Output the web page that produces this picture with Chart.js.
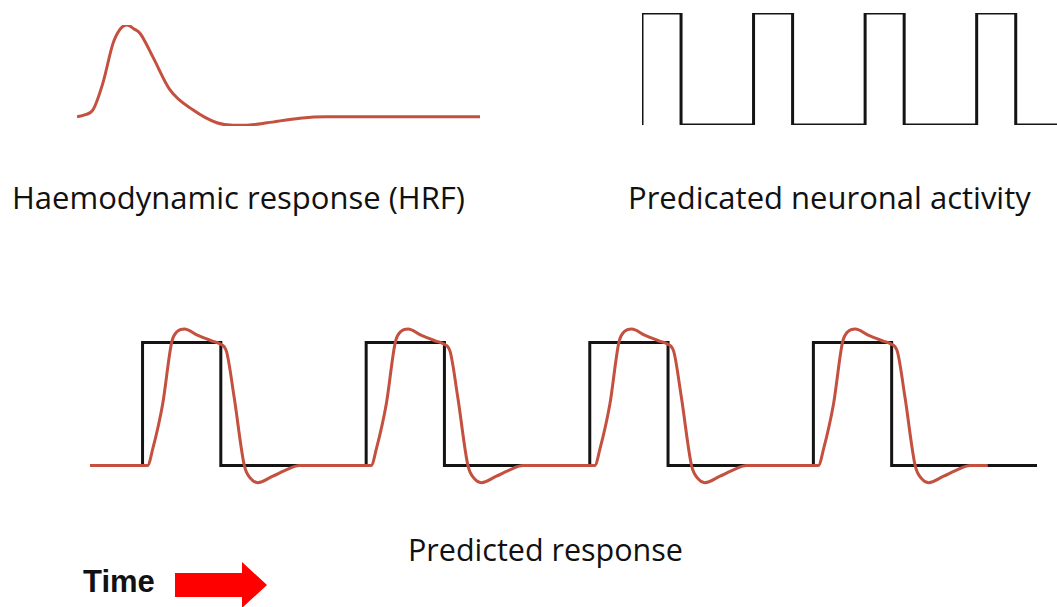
<!DOCTYPE html>
<html>
<head>
<meta charset="UTF-8" />
<title>Predicted BOLD response</title>
<script src="https://cdn.jsdelivr.net/npm/chart.js"></script>
<style>
  body { margin: 0; background: #fff; }
  #page { position: relative; width: 1057px; height: 607px; overflow: hidden; }
  .box { position: absolute; }
  .label { position: absolute; font-family: "Open Sans", sans-serif; font-size: 31px; line-height: 31px; color: #111; white-space: nowrap; }
  #time { font-family: "Liberation Sans", Arial, sans-serif; font-weight: bold; font-size: 31px; line-height: 31px; }
  #arrow { position: absolute; left: 175px; top: 562px; width: 92px; height: 46px; background: #ff0000;
           clip-path: polygon(0 11px, 67px 11px, 67px 0, 92px 23px, 67px 46px, 67px 35px, 0 35px); }
</style>
</head>
<body>
<div id="page">
  <div class="box" style="left:77px; top:25px; width:403px; height:101px;"><canvas id="hrfChart"></canvas></div>
  <div class="box" style="left:642px; top:13px; width:415px; height:112px;"><canvas id="blockChart"></canvas></div>
  <div class="box" style="left:90px; top:318px; width:947px; height:172px;"><canvas id="responseChart"></canvas></div>

  <div class="label" style="left:12px; top:182px;">Haemodynamic response (HRF)</div>
  <div class="label" style="left:628px; top:182px;">Predicated neuronal activity</div>
  <div class="label" style="left:408px; top:534px; font-size:30.5px;">Predicted response</div>
  <div class="label" id="time" style="left:83px; top:566px;">Time</div>
  <div id="arrow"></div>
</div>

<script>
// HRF shape (seconds, relative amplitude)
const hrfTimes  = [0, 0.6, 1.27, 2.06, 2.86, 3.4, 3.97, 4.5, 5.0, 6.03, 7.4, 9.2, 11.1, 12.4, 13.7, 15.1, 17.7, 19.8, 32];
const hrfValues = [0, 0.02, 0.076, 0.37, 0.80, 0.95, 1.0, 0.96, 0.91, 0.65, 0.29, 0.076, -0.065, -0.092, -0.088, -0.065, -0.015, 0, 0];

// neuronal activity blocks (top right)
const blockOnsets = [0, 20, 40, 60];
const blockLength = 7;
const blockEnd = 75;

// predicted response (bottom): stimulus blocks and one response pulse
const stimOnsets = [5, 25, 45, 65];
const stimLength = 7;
const stimStart = 0.3;
const stimEnd = 85;
const pulseTimes  = [0.45, 0.9, 1.8, 2.6, 3.1, 3.75, 4.9, 6.3, 6.9, 7.5, 8.2, 9.1, 9.7, 10.3, 11.6, 13.0, 14.0];
const pulseValues = [0, 0.13, 0.5, 1.0, 1.09, 1.11, 1.06, 1.01, 0.99, 0.93, 0.55, 0, -0.11, -0.14, -0.09, -0.03, 0];
const responseEnd = 80.6;

const RED = '#c4503f';
const BLACK = '#141414';

function blockPoints(onsets, len, start, end) {
    const pts = [{x: start, y: 0}];
    onsets.forEach(t => {
        pts.push({x: t, y: 0}, {x: t, y: 1}, {x: t + len, y: 1}, {x: t + len, y: 0});
    });
    pts.push({x: end, y: 0});
    return pts;
}

function responsePoints() {
    const pts = [{x: stimStart, y: 0}];
    stimOnsets.forEach(t => {
        pulseTimes.forEach((dt, i) => pts.push({x: t + dt, y: pulseValues[i]}));
    });
    pts.push({x: responseEnd, y: 0});
    return pts;
}

function bareOptions(xmin, xmax, ymin, ymax) {
    return {
        responsive: true,
        maintainAspectRatio: false,
        animation: false,
        events: [],
        layout: { padding: 0 },
        plugins: { legend: { display: false }, tooltip: { enabled: false } },
        elements: { point: { radius: 0 } },
        scales: {
            x: { type: 'linear', min: xmin, max: xmax, display: false },
            y: { type: 'linear', min: ymin, max: ymax, display: false }
        }
    };
}

new Chart(document.getElementById('hrfChart'), {
    type: 'line',
    data: {
        datasets: [{
            data: hrfTimes.map((t, i) => ({x: t, y: hrfValues[i]})),
            borderColor: RED,
            borderWidth: 3,
            cubicInterpolationMode: 'monotone',
            clip: false
        }]
    },
    options: bareOptions(0, 32, -0.1, 1.0)
});

new Chart(document.getElementById('blockChart'), {
    type: 'line',
    data: {
        datasets: [{
            data: blockPoints(blockOnsets, blockLength, 0, blockEnd).slice(1),
            borderColor: BLACK,
            borderWidth: 3,
            tension: 0,
            clip: false
        }]
    },
    options: bareOptions(0, 74.4, 0, 1)
});

new Chart(document.getElementById('responseChart'), {
    type: 'line',
    data: {
        datasets: [{
            data: responsePoints(),
            borderColor: RED,
            borderWidth: 3,
            cubicInterpolationMode: 'monotone',
            clip: false
        }, {
            data: blockPoints(stimOnsets, stimLength, stimStart, stimEnd),
            borderColor: BLACK,
            borderWidth: 3,
            tension: 0,
            clip: false
        }]
    },
    options: bareOptions(stimStart, stimEnd, -0.2, 1.2)
});
</script>
</body>
</html>
